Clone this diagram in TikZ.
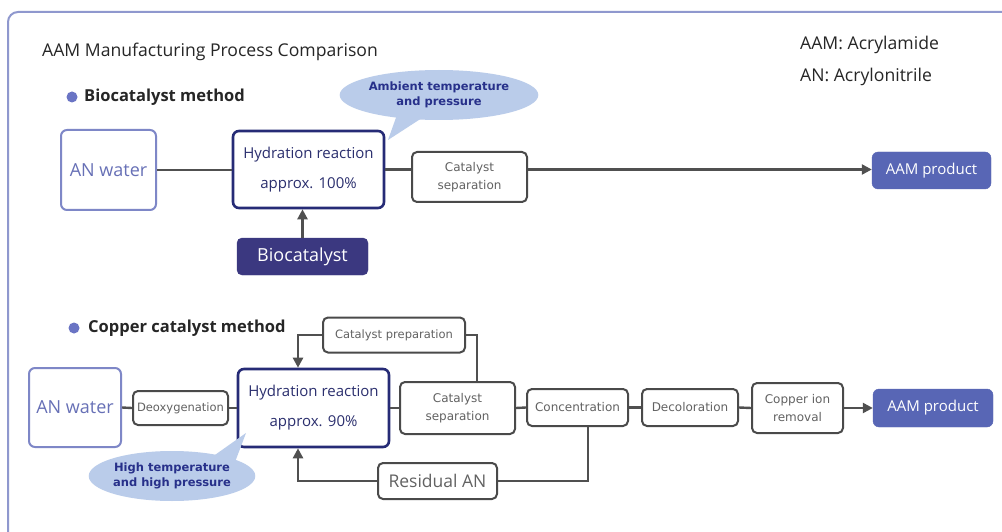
\documentclass[tikz,border=0pt]{standalone}
\usepackage{fontspec}
\setmainfont{Open Sans}
\newfontfamily\boxfont{DejaVu Sans}
\usetikzlibrary{arrows.meta,shapes.geometric}
\definecolor{framec}{HTML}{8F98CE}
\definecolor{lightbd}{HTML}{7E87C7}
\definecolor{lighttx}{HTML}{6770B6}
\definecolor{navybd}{HTML}{262B76}
\definecolor{navytx}{HTML}{2B2F6E}
\definecolor{graybd}{HTML}{4A4A4A}
\definecolor{graytx}{HTML}{626262}
\definecolor{prodfill}{HTML}{5866B5}
\definecolor{biofill}{HTML}{3B3880}
\definecolor{bubfill}{HTML}{BACCEA}
\definecolor{bubtx}{HTML}{27308A}
\definecolor{linec}{HTML}{505050}
\definecolor{bulletc}{HTML}{6A74C4}
\tikzset{
  feed/.style={draw=lightbd, line width=2pt, rounded corners=6pt, fill=white,
    text=lighttx, font=\fontsize{18}{20}\selectfont, inner sep=0pt},
  reactor/.style={draw=navybd, line width=2.6pt, rounded corners=6pt, fill=white,
    text=navytx, font=\fontsize{15}{30}\selectfont, align=center, inner sep=0pt},
  stepbox/.style={draw=graybd, line width=2pt, rounded corners=5pt, fill=white,
    text=graytx, font=\boxfont\fontsize{12}{18}\selectfont, align=center, inner sep=0pt},
  tinybox/.style={stepbox, font=\boxfont\fontsize{11.5}{13}\selectfont},
  product/.style={fill=prodfill, draw=prodfill, rounded corners=6pt, text=white,
    font=\fontsize{15}{17}\selectfont, inner sep=0pt},
  agent/.style={fill=biofill, draw=biofill, rounded corners=5pt, text=white,
    font=\fontsize{18}{20}\selectfont, inner sep=0pt},
  bubble/.style={ellipse, fill=bubfill, draw=none, text=bubtx, align=center,
    font=\boxfont\bfseries\fontsize{11.5}{15}\selectfont, inner sep=0pt},
  flow/.style={draw=linec, line width=2.4pt},
  flowarrow/.style={flow, -{Triangle[length=10pt,width=10pt]}},
  heading/.style={anchor=west, font=\bfseries\fontsize{16.5}{20}\selectfont, text=black!85, inner sep=0pt},
  plain/.style={anchor=west, font=\fontsize{17.6}{20}\selectfont, text=black!85, inner sep=0pt}
}
\begin{document}
\begin{tikzpicture}[x=1pt,y=-1pt]
\useasboundingbox (0,0) rectangle (1002,532);
\fill[white] (0,0) rectangle (1002,532);
% outer frame
\draw[framec, line width=2pt, rounded corners=10pt] (8,12) rectangle (1030,560);

% titles and legend
\node[plain] (title) at (42,52) {AAM Manufacturing Process Comparison};
\node[plain] (leg1) at (800,45) {AAM: Acrylamide};
\node[plain] (leg2) at (800,77) {AN: Acrylonitrile};

% ---------------- biocatalyst method ----------------
\fill[bulletc] (72,97) circle (5.5pt);
\node[heading] (h1) at (84,97) {Biocatalyst method};

\node[feed, minimum width=95pt, minimum height=80pt] (anw1) at (108.5,170) {AN water};
\node[reactor, minimum width=151pt, minimum height=77pt] (hyd1) at (308.5,169.5)
  {Hydration reaction\\approx. 100\%};
\node[stepbox, minimum width=115pt, minimum height=50pt] (sep1) at (469.5,177)
  {Catalyst\\separation};
\node[product, minimum width=119pt, minimum height=37pt] (prod1) at (931.5,170.5) {AAM product};
\node[agent, minimum width=131pt, minimum height=37pt] (bio) at (302.5,256.5) {Biocatalyst};

% speech bubble
\coordinate (tip1) at (388,140);
\fill[bubfill] (tip1) -- (398,112) -- (425,116) -- cycle;
\node[bubble, minimum width=182pt, minimum height=50pt] (bub1) at (439,95)
  {Ambient temperature\\and pressure};

\draw[flow] (anw1.east) -- (anw1.east -| hyd1.west);
\draw[flow] (hyd1.east) -- (hyd1.east -| sep1.west);
\draw[flowarrow] (hyd1.east -| sep1.east) -- (hyd1.east -| prod1.west);
\draw[flowarrow] (bio.north) -- (bio.north |- hyd1.south);

% ---------------- copper catalyst method ----------------
\fill[bulletc] (74,328) circle (5.5pt);
\node[heading] (h2) at (88,328) {Copper catalyst method};

\node[feed, minimum width=92pt, minimum height=79pt] (anw2) at (75,407.5) {AN water};
\node[tinybox, minimum width=95pt, minimum height=34pt] (deox) at (180.5,408) {Deoxygenation};
\node[reactor, minimum width=151pt, minimum height=78pt] (hyd2) at (313.5,408)
  {Hydration reaction\\approx. 90\%};
\node[stepbox, minimum width=115pt, minimum height=52pt] (sep2) at (457.5,408)
  {Catalyst\\separation};
\node[stepbox, minimum width=101pt, minimum height=37pt] (conc) at (577.5,407.5) {Concentration};
\node[stepbox, minimum width=96pt, minimum height=37pt] (decol) at (690,407.5) {Decoloration};
\node[stepbox, minimum width=91pt, minimum height=50pt] (cu) at (797.5,408)
  {Copper ion\\removal};
\node[product, minimum width=120pt, minimum height=38pt] (prod2) at (933,408) {AAM product};
\node[tinybox, minimum width=142pt, minimum height=35pt] (prep) at (394,335) {Catalyst preparation};
\node[stepbox, font=\fontsize{17.5}{19}\selectfont, minimum width=119pt, minimum height=36pt]
  (resid) at (437.5,481) {Residual AN};

% speech bubble
\coordinate (tip2) at (246,433);
\fill[bubfill] (tip2) -- (205,462) -- (232,470) -- cycle;
\node[bubble, minimum width=165pt, minimum height=50pt] (bub2) at (172,476)
  {High temperature\\and high pressure};

% main line
\draw[flow] (anw2.east) -- (deox.west);
\draw[flow] (deox.east) -- (hyd2.west);
\draw[flow] (hyd2.east) -- (sep2.west);
\draw[flow] (sep2.east) -- (conc.west);
\draw[flow] (conc.east) -- (decol.west);
\draw[flow] (decol.east) -- (cu.west);
\draw[flowarrow] (cu.east) -- (prod2.west);

% catalyst recycle loop
\coordinate (sepup) at (477,0);
\draw[flow] (sepup |- sep2.north) -- (sepup |- prep.east) -- (prep.east);
\coordinate (leftdrop) at (298,0);
\draw[flowarrow] (prep.west) -- (leftdrop |- prep.west) -- (leftdrop |- hyd2.north);

% residual AN recycle loop
\coordinate (concdown) at (588,0);
\draw[flow] (concdown |- conc.south) -- (concdown |- resid.east) -- (resid.east);
\draw[flowarrow] (resid.west) -- (leftdrop |- resid.west) -- (leftdrop |- hyd2.south);
\end{tikzpicture}
\end{document}
